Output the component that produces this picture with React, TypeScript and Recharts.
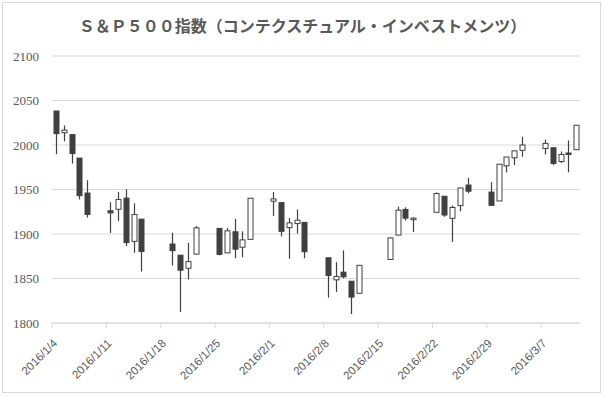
import { ComposedChart, Bar, XAxis, YAxis, CartesianGrid } from 'recharts';

// trading days (2016), OHLC
const tradeDates = [
  '1/4', '1/5', '1/6', '1/7', '1/8',
  '1/11', '1/12', '1/13', '1/14', '1/15',
  '1/19', '1/20', '1/21', '1/22',
  '1/25', '1/26', '1/27', '1/28', '1/29',
  '2/1', '2/2', '2/3', '2/4', '2/5',
  '2/8', '2/9', '2/10', '2/11', '2/12',
  '2/16', '2/17', '2/18', '2/19',
  '2/22', '2/23', '2/24', '2/25', '2/26',
  '2/29', '3/1', '3/2', '3/3', '3/4',
  '3/7', '3/8', '3/9', '3/10', '3/11',
];
const openPrices = [
  2038.2, 2013.8, 2011.7, 1985.3, 1946.0,
  1926.1, 1927.8, 1940.3, 1891.7, 1916.7,
  1888.7, 1876.2, 1861.5, 1877.4,
  1906.3, 1878.8, 1902.5, 1885.2, 1894.0,
  1936.9, 1935.3, 1907.1, 1911.7, 1913.1,
  1873.3, 1848.5, 1857.1, 1847.0, 1833.4,
  1871.4, 1898.8, 1927.6, 1916.7,
  1924.4, 1942.4, 1917.6, 1931.9, 1955.0,
  1947.1, 1937.1, 1976.6, 1985.6, 1994.0,
  1996.1, 1996.9, 1981.4, 1991.0, 1994.7,
];
const highPrices = [
  2038.2, 2021.9, 2011.7, 1985.3, 1960.4,
  1935.7, 1947.4, 1950.3, 1934.5, 1916.7,
  1901.4, 1876.2, 1889.9, 1908.9,
  1906.3, 1906.7, 1917.0, 1903.0, 1940.2,
  1947.2, 1935.3, 1918.0, 1927.4, 1913.1,
  1873.3, 1868.3, 1881.6, 1847.0, 1864.8,
  1895.8, 1930.7, 1930.0, 1918.8,
  1946.7, 1942.4, 1932.1, 1951.8, 1963.0,
  1958.3, 1978.4, 1986.5, 1993.7, 2009.1,
  2006.1, 1996.9, 1992.7, 2005.1, 2022.4,
];
const lowPrices = [
  1989.7, 2004.2, 1979.1, 1938.8, 1918.5,
  1901.1, 1914.4, 1886.4, 1878.9, 1857.8,
  1864.6, 1812.3, 1849.0, 1877.4,
  1876.0, 1878.8, 1872.7, 1873.7, 1894.0,
  1920.3, 1897.3, 1872.2, 1900.5, 1872.7,
  1828.5, 1834.9, 1850.3, 1810.1, 1833.4,
  1871.4, 1898.8, 1915.1, 1902.2,
  1924.4, 1919.4, 1891.0, 1925.4, 1945.8,
  1931.8, 1937.1, 1969.2, 1977.4, 1986.8,
  1989.4, 1977.4, 1979.8, 1969.3, 1994.7,
];
const closePrices = [
  2012.7, 2016.7, 1990.3, 1943.1, 1922.0,
  1923.7, 1938.7, 1890.3, 1921.8, 1880.3,
  1881.3, 1859.3, 1869.0, 1906.9,
  1877.1, 1903.6, 1883.0, 1893.4, 1940.2,
  1939.4, 1903.0, 1912.5, 1915.5, 1880.1,
  1853.4, 1852.2, 1851.9, 1829.1, 1864.8,
  1895.6, 1926.8, 1917.8, 1917.8,
  1945.5, 1921.3, 1929.8, 1951.7, 1948.1,
  1932.2, 1978.4, 1986.5, 1993.4, 2000.0,
  2001.8, 1979.3, 1989.3, 1989.6, 2022.2,
];

const weekLabels = [
  '2016/1/4', '2016/1/11', '2016/1/18', '2016/1/25', '2016/2/1',
  '2016/2/8', '2016/2/15', '2016/2/22', '2016/2/29', '2016/3/7',
];
const yTicks = [1800, 1850, 1900, 1950, 2000, 2050, 2100];

const START = Date.UTC(2016, 0, 4);
const DAYS = 68; // 1/4 .. 3/11

const data = Array.from({ length: DAYS }, (_, i) => {
  const d = new Date(START + i * 86400000);
  const key = `${d.getUTCMonth() + 1}/${d.getUTCDate()}`;
  const k = tradeDates.indexOf(key);
  if (k < 0) return { day: i, range: null };
  return {
    day: i,
    open: openPrices[k],
    high: highPrices[k],
    low: lowPrices[k],
    close: closePrices[k],
    range: [lowPrices[k], highPrices[k]],
  };
});

const weekTicks = weekLabels.map((_, i) => i * 7);

const INK = '#404040';
const GRID = '#d9d9d9';
const TEXT = '#595959';

const Candle = (props: any) => {
  const { x, y, width, height, payload } = props;
  if (!payload || payload.open == null || !height) return <g />;
  const top = Math.min(y, y + height);
  const h = Math.abs(height);
  const k = h / (payload.high - payload.low);
  const yOf = (v: number) => top + (payload.high - v) * k;
  const cx = Math.round(x + width / 2) + 0.5;
  const up = payload.close >= payload.open;
  const bTop = yOf(Math.max(payload.open, payload.close));
  const bBot = yOf(Math.min(payload.open, payload.close));
  const bw = 5;
  return (
    <g>
      <line x1={cx} x2={cx} y1={top} y2={top + h} stroke={INK} strokeWidth={1.2} />
      <rect
        x={cx - bw / 2}
        y={bTop}
        width={bw}
        height={Math.max(bBot - bTop, 1.5)}
        fill={up ? '#ffffff' : INK}
        stroke={INK}
        strokeWidth={1}
      />
    </g>
  );
};

const DateTick = (props: any) => {
  const { x, y, payload } = props;
  const label = weekLabels[Math.round(payload.value / 7)];
  const ax = x + 6;
  const ay = y + 14;
  return (
    <text
      x={ax}
      y={ay}
      transform={`rotate(-45, ${ax}, ${ay})`}
      textAnchor="end"
      fill={TEXT}
      fontSize={11.5}
      fontFamily="'Liberation Sans', Arial, sans-serif"
    >
      {label}
    </text>
  );
};

export default function App() {
  return (
    <div style={{ position: 'absolute', left: 0, top: 0, width: 605, height: 397, background: '#fff' }}>
      <div
        style={{
          position: 'absolute',
          left: 2,
          top: 2,
          width: 597,
          height: 389,
          border: `1px solid ${GRID}`,
        }}
      />
      <div
        style={{
          position: 'absolute',
          left: 0,
          top: 15,
          width: 605,
          textAlign: 'center',
          fontFamily: "'Noto Sans CJK JP', sans-serif",
          fontWeight: 'bold',
          fontSize: 16,
          lineHeight: '20px',
          color: TEXT,
        }}
      >
        Ｓ＆Ｐ５００指数（コンテクスチュアル・インベストメンツ）
      </div>
      <ComposedChart
        width={605}
        height={397}
        data={data}
        margin={{ top: 56, right: 25, left: 0, bottom: 44 }}
        style={{ position: 'absolute', left: 0, top: 0 }}
      >
        <CartesianGrid vertical={false} stroke={GRID} />
        <XAxis dataKey="day" type="category" hide height={0} />
        <XAxis
          xAxisId="date"
          dataKey="day"
          type="number"
          domain={[0, DAYS]}
          allowDataOverflow
          ticks={weekTicks}
          interval={0}
          height={30}
          stroke={GRID}
          tickLine={{ stroke: GRID }}
          tickSize={5}
          tickMargin={2}
          tick={<DateTick />}
        />
        <YAxis
          domain={[1800, 2100]}
          ticks={yTicks}
          width={52}
          axisLine={false}
          tickLine={false}
          tickSize={0}
          tickMargin={13}
          tick={{ fill: TEXT, fontSize: 13, fontFamily: "'Liberation Serif', serif" }}
        />
        <Bar dataKey="range" barSize={6} shape={<Candle />} isAnimationActive={false} />
      </ComposedChart>
    </div>
  );
}
